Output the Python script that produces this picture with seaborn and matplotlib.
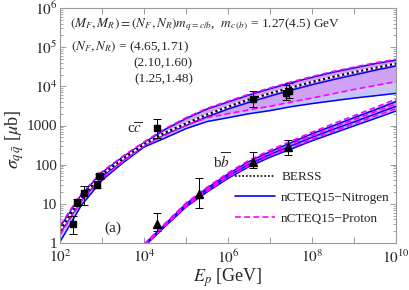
import numpy as np
import pandas as pd
import seaborn as sns
import matplotlib
matplotlib.use('Agg')
from matplotlib import pyplot as plt
from matplotlib.lines import Line2D
from matplotlib.ticker import FixedLocator, NullFormatter, LogLocator

# energy grids [GeV]
E_cc = [1e2, 3.16e2, 1e3, 3.16e3, 1e4, 3.16e4, 1e5, 3.16e5, 1e6, 3.16e6,
        1e7, 3.16e7, 1e8, 3.16e8, 1e9, 3.16e9, 1e10]
E_bb = [1e4, 3.16e4, 1e5, 3.16e5, 1e6, 3.16e6, 1e7, 3.16e7, 1e8, 3.16e8,
        1e9, 3.16e9, 1e10]

# charm cross sections [mub]
berss_cc = [2.1, 14, 56, 141, 330, 660, 1120, 1900, 3000, 4600, 6600, 9300,
            12900, 17400, 22900, 29500, 38000]
prot_cc_1 = [2.8, 17.8, 66, 166, 380, 830, 1580, 2750, 4170, 6300, 9100, 12900,
             17800, 24000, 30900, 39800, 49000]
prot_cc_2 = [2.0, 13.2, 54, 138, 324, 646, 1100, 1860, 2950, 4470, 6460, 9120,
             12600, 17000, 22400, 28800, 37200]
prot_cc_3 = [1.6, 11.2, 44.7, 120, 302, 562, 1000, 1580, 2000, 2510, 3090, 3980,
             5010, 6460, 8320, 10500, 13200]
nitr_cc_1 = [2.5, 16.6, 63, 158, 363, 794, 1510, 2630, 3980, 6030, 8700, 12300,
             17000, 22900, 29500, 38000, 46800]
nitr_cc_2 = [1.8, 12, 50, 132, 316, 603, 1000, 1660, 2630, 3890, 5620, 7940,
             11000, 14800, 19500, 25700, 33100]
nitr_cc_3 = [1.07, 8.9, 40, 112, 282, 479, 832, 1260, 1580, 2000, 2400, 3020,
             3630, 4270, 5010, 5750, 6610]

# beauty cross sections [mub]
prot_bb_1 = [0.93, 3.16, 10.5, 26.3, 61.7, 129, 234, 398, 676, 1100, 1780, 2880, 4680]
prot_bb_2 = [0.89, 2.95, 9.5, 23.4, 53.7, 112, 200, 331, 550, 871, 1410, 2240, 3550]
prot_bb_3 = [0.83, 2.75, 8.7, 20.9, 47.9, 95.5, 170, 275, 447, 708, 1100, 1740, 2690]
nitr_bb_1 = [0.91, 3.0, 10.0, 25.1, 57.5, 120, 214, 363, 617, 977, 1580, 2510, 4070]
nitr_bb_2 = [0.85, 2.82, 9.1, 22.4, 51.3, 102, 182, 302, 501, 794, 1230, 1950, 3090]
nitr_bb_3 = [0.81, 2.63, 8.3, 20.0, 44.7, 89, 155, 251, 407, 631, 977, 1510, 2340]

# measurements
cc_E = [200, 250, 380, 740, 830, 910, 2.09e4, 3.98e6, 2.45e7, 2.8e7]
cc_sig = [3.0, 11, 18.6, 31, 50, 52, 850, 4700, 6600, 7800]
cc_lo = [1.7, 9, 9.3, 25, 42, 44, 470, 2900, 4400, 5000]
cc_hi = [5.0, 13, 28, 38, 58, 60, 1440, 7500, 11000, 12500]

bb_E = [2.09e4, 2.09e5, 3.98e6, 2.75e7]
bb_sig = [3.0, 17.5, 115, 287]
bb_lo = [2.0, 8, 80, 175]
bb_hi = [5.7, 45, 215, 425]

sns.set_theme(style='ticks')
plt.rcParams['font.family'] = ['Liberation Serif', 'DejaVu Serif']
plt.rcParams['mathtext.fontset'] = 'stix'

BLUE = '#0000ff'
MAG = '#ff00ff'
DASH = (0, (3.5, 2))
DOT = (0, (1, 1.2))

fig = plt.figure(figsize=(4.09, 2.90), dpi=100)
ax = fig.add_axes([60 / 409, 1 - 243 / 290, 336 / 409, 235 / 290])

# bands
ax.fill_between(E_cc, nitr_cc_3, nitr_cc_1, color='#c6c6f4', lw=0)
ax.fill_between(E_cc, prot_cc_3, prot_cc_1, color='#d0a2f4', lw=0)
ax.fill_between(E_bb, nitr_bb_3, nitr_bb_1, color='#c6c6f4', lw=0)
ax.fill_between(E_bb, prot_bb_3, prot_bb_1, color='#d0a2f4', lw=0)

for s in [nitr_cc_1, nitr_cc_2, nitr_cc_3]:
    sns.lineplot(x=E_cc, y=s, ax=ax, color=BLUE, lw=1.1, estimator=None, sort=False)
for s in [nitr_bb_1, nitr_bb_2, nitr_bb_3]:
    sns.lineplot(x=E_bb, y=s, ax=ax, color=BLUE, lw=1.1, estimator=None, sort=False)
for s in [prot_cc_1, prot_cc_2, prot_cc_3]:
    sns.lineplot(x=E_cc, y=s, ax=ax, color=MAG, lw=1.2, linestyle=DASH,
                 estimator=None, sort=False)
for s in [prot_bb_1, prot_bb_2, prot_bb_3]:
    sns.lineplot(x=E_bb, y=s, ax=ax, color=MAG, lw=1.2, linestyle=DASH,
                 estimator=None, sort=False)
# BERSS: black dots over a thin white line
sns.lineplot(x=E_cc, y=berss_cc, ax=ax, color='white', lw=1.4,
             estimator=None, sort=False)
sns.lineplot(x=E_cc, y=berss_cc, ax=ax, color='black', lw=1.6,
             linestyle=DOT, estimator=None, sort=False)

# data
cc_err = [np.array(cc_sig) - np.array(cc_lo), np.array(cc_hi) - np.array(cc_sig)]
bb_err = [np.array(bb_sig) - np.array(bb_lo), np.array(bb_hi) - np.array(bb_sig)]
ax.errorbar(cc_E, cc_sig, yerr=cc_err, fmt='s', color='black', ms=4.6,
            elinewidth=0.7, capsize=3, capthick=0.7, zorder=5)
ax.errorbar(bb_E, bb_sig, yerr=bb_err, fmt='^', color='black', ms=5.2,
            elinewidth=0.7, capsize=3, capthick=0.7, zorder=5)

ax.set_xscale('log')
ax.set_yscale('log')
ax.set_xlim(1e2, 1e10)
ax.set_ylim(1, 1e6)

ax.xaxis.set_major_locator(FixedLocator([1e2, 1e4, 1e6, 1e8, 1e10]))
ax.set_xticklabels(['$10^2$', '$10^4$', '$10^6$', '$10^8$', '$10^{10}$'])
ax.xaxis.set_minor_locator(FixedLocator([1e3, 1e5, 1e7, 1e9]))
ax.xaxis.set_minor_formatter(NullFormatter())
ax.yaxis.set_major_locator(FixedLocator([1, 10, 100, 1000, 1e4, 1e5, 1e6]))
ax.set_yticklabels(['1', '10', '100', '1000', '$10^4$', '$10^5$', '$10^6$'])
ax.yaxis.set_minor_locator(LogLocator(base=10, subs=np.arange(2, 10), numticks=20))
ax.yaxis.set_minor_formatter(NullFormatter())

ax.tick_params(which='both', direction='in', top=True, right=True,
               color='#999999', labelsize=11)
ax.tick_params(axis='y', pad=2)
ax.tick_params(axis='x', pad=4)
ax.tick_params(which='major', length=4.5, width=0.7)
ax.tick_params(axis='x', which='minor', length=4.5, width=0.7)
ax.tick_params(axis='y', which='minor', length=2.5, width=0.6)
for sp in ax.spines.values():
    sp.set_color('#999999')
    sp.set_linewidth(0.8)

ax.set_xlabel('$E_p$ [GeV]', fontsize=13, labelpad=0)
ax.set_ylabel(r'$\sigma_{q\,\bar{q}}$ [$\mu$b]', fontsize=13)
ax.yaxis.set_label_coords(-0.10, 0.44)

def ftext(x, y, s, **kw):
    fig.text(x / 409, 1 - y / 290, s, va='center', **kw)

ftext(70, 25, r'$(M_F, M_R) = (N_F, N_R)m_{q=c/b}$,  $m_{c\,(b)}$ = 1.27(4.5) GeV', fontsize=9.5)
ftext(71, 47, r'$(N_F, N_R)$ = (4.65,1.71)', fontsize=9.5)
ftext(193, 63, '(2.10,1.60)', fontsize=9.5, ha='right')
ftext(193, 79, '(1.25,1.48)', fontsize=9.5, ha='right')
ftext(135, 129, r'c$\overline{c}$', fontsize=11, ha='center')
ftext(222, 162, r'b$\overline{b}$', fontsize=11, ha='center')
ftext(113, 228, '(a)', fontsize=11, ha='center')

handles = [
    Line2D([], [], color='black', lw=1.2, linestyle=DOT),
    Line2D([], [], color=BLUE, lw=1.2),
    Line2D([], [], color=MAG, lw=1.2, linestyle=DASH),
]
labels = ['BERSS', 'nCTEQ15\u2212Nitrogen', 'nCTEQ15\u2212Proton']
ax.legend(handles, labels, loc='upper left', bbox_to_anchor=(235 / 409, 1 - 171 / 290),
          bbox_transform=fig.transFigure, frameon=False, fontsize=9.5,
          handlelength=3.0, handletextpad=0.5, labelspacing=0.65, borderpad=0,
          borderaxespad=0)

fig.savefig('out.png', dpi=100)
